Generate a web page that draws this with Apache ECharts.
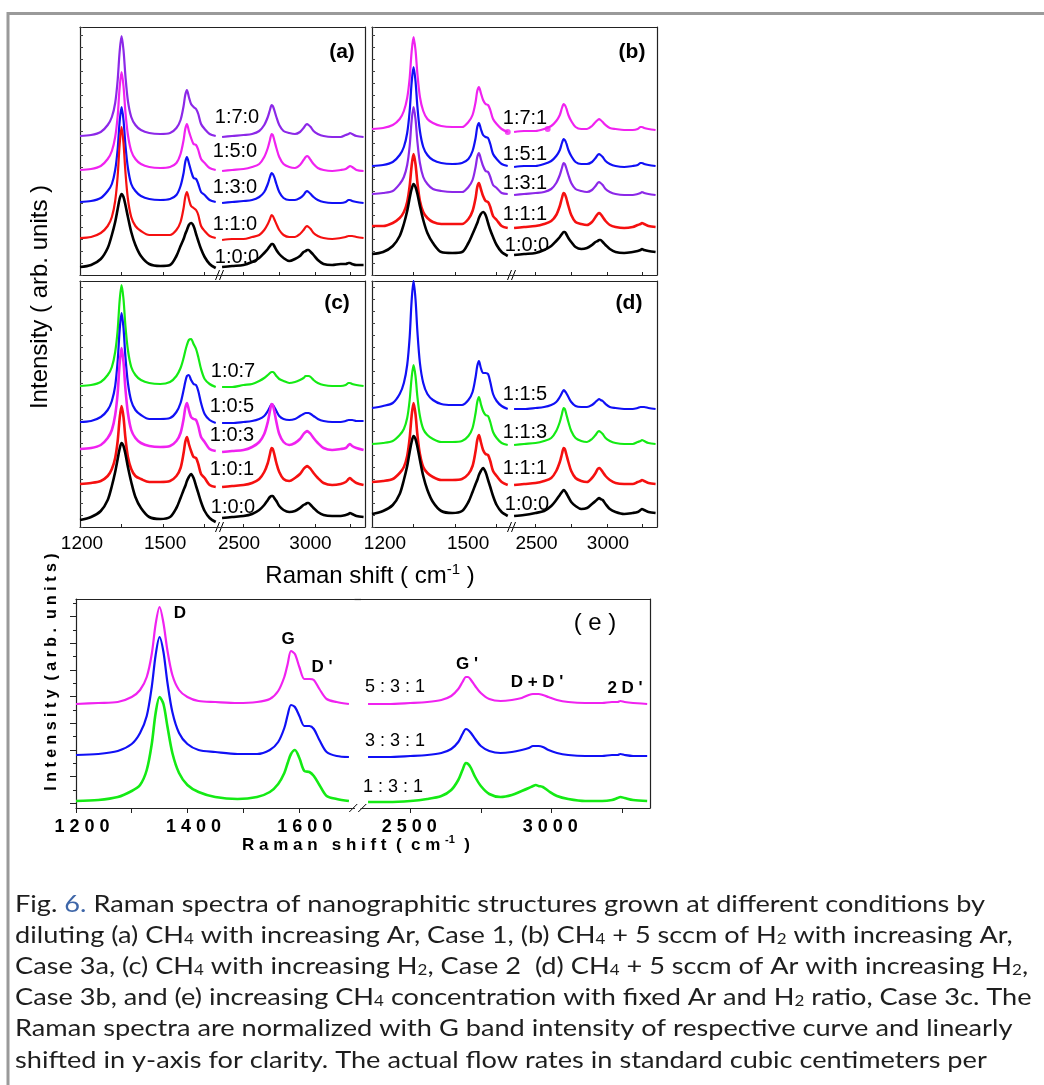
<!DOCTYPE html>
<html><head><meta charset="utf-8">
<script src="https://cdn.jsdelivr.net/npm/echarts@6/dist/echarts.min.js"></script>
<style>html,body{margin:0;padding:0;background:#fff}#c{width:1044px;height:1085px}</style>
</head><body><div id="c"></div>
<script>
// ---------- shared x positions (Raman shift, cm-1) ----------
const XL = [1200,1240,1275,1300,1315,1327,1336,1343,1350,1357,1364,1373,1385,1400,1420,1450,1490,1525,1548,1563,1574,1580,1586,1593,1601,1610,1619,1627,1637,1650,1668,1690];
const XR = [2350,2420,2500,2560,2610,2645,2670,2685,2697,2705,2715,2730,2750,2780,2820,2860,2895,2920,2935,2945,2955,2970,2990,3020,3060,3120,3180,3215,3235,3245,3260,3290,3340];

// ---------- tick values / labels ----------
const TICKS_L = [1200,1350,1500,1650];
const LABELS_L = [1200,1500];
const TICKS_R = [2500,2750,3000,3250];
const LABELS_R = [2500,3000];
const E_TICKS_L = [1200,1300,1400,1500,1600];
const E_LABELS_L = [1200,1400,1600];
const E_TICKS_R = [2500,2750,3000,3250];
const E_LABELS_R = [2500,3000];
const E_YTICKS_MAJOR = [4.7,31.4,58,84.7,111.4,138,164.7,191.4];
const E_YTICKS_MINOR = [18,44.7,71.4,98,124.7,151.4,178,204.7];

// ---------- panel (a): CH4 : Ar : H2 ----------
const a170L=[139,140,143,150,158,172,195,223,239,225,199,174,158,150,145,142,141,142,147,155,169,180,185,178,171,168,166,161,151,146,141,139];
const a170R=[138,139,140,141,144,150,158,165,170,169,165,158,150,144,142,141,143,147,150,151,150,148,144,141,139,138,138,140,141,142,141,139,138];
const a150L=[105,106,109,116,124,138,159,187,203,189,163,140,124,116,111,108,107,108,112,121,135,146,151,144,137,131,130,125,116,112,107,105];
const a150R=[104,105,106,108,111,118,127,135,141,140,135,127,118,111,108,107,110,115,118,119,118,115,111,107,105,104,105,106,108,109,108,105,104];
const a130L=[73,74,77,84,91,105,126,153,168,155,130,107,91,84,79,76,75,76,80,89,102,113,118,112,104,97,96,91,83,80,75,73];
const a130R=[72,73,74,75,78,83,91,98,102,101,98,91,83,77,75,75,77,80,83,84,83,81,78,75,73,72,72,73,75,75,74,73,72];
const a110L=[37,38,42,49,58,74,99,130,148,132,103,76,58,49,44,40,40,40,45,53,67,78,83,76,69,67,65,60,49,44,39,37];
const a110R=[35,36,36,38,40,45,51,56,60,59,56,51,45,40,38,38,41,45,48,49,48,46,42,39,37,36,37,38,39,39,39,38,37];
const a100L=[8,10,16,27,40,53,66,76,81,78,70,58,43,30,19,11,9,10,19,29,36,41,45,50,52,49,41,34,26,18,11,7];
const a100R=[8,9,10,13,17,22,26,29,31,31,29,25,21,17,14,16,19,23,24,25,25,23,20,15,11,10,11,11,12,12,11,10,10];

// ---------- panel (b) ----------
const b171L=[146,147,150,156,164,177,197,223,238,225,201,178,164,156,152,149,148,148,153,160,173,184,188,182,175,171,170,165,156,151,146,143];
const b171R=[143,144,144,146,149,154,160,167,171,170,167,160,154,148,146,146,149,153,155,156,155,153,150,147,146,145,145,146,148,148,147,146,145];
const b171DotsL=[[1690,143]];
const b171DotsR=[[2585,146]];
const b151L=[109,110,113,120,128,142,164,192,208,194,168,144,128,120,115,112,111,112,116,124,137,148,152,146,140,138,137,131,121,116,111,109];
const b151R=[108,109,109,111,114,119,125,132,136,135,132,125,119,113,111,111,113,117,120,121,120,118,114,111,109,108,109,110,112,112,111,110,109];
const b131L=[81,82,84,91,98,110,129,154,168,156,133,112,98,91,86,84,83,83,88,95,108,118,122,116,109,104,103,98,90,87,82,81];
const b131R=[80,81,82,83,86,92,100,107,112,111,107,100,92,86,84,83,85,89,92,93,92,90,86,83,81,80,80,81,82,83,82,81,80];
const b111L=[49,49,52,57,63,73,89,109,121,111,92,74,63,57,53,51,51,51,56,64,77,88,92,86,79,74,73,68,59,55,49,47];
const b111R=[47,48,49,51,54,60,69,77,82,81,77,69,60,53,51,50,53,58,61,62,61,58,54,50,48,47,48,50,51,52,51,49,48];
const b100L=[21,23,29,39,51,64,77,86,91,88,81,69,55,42,32,23,22,23,32,41,48,52,57,61,63,60,52,45,38,30,23,19];
const b100R=[20,21,22,25,29,34,38,41,43,43,41,37,33,28,26,27,30,33,34,35,35,33,30,26,23,22,23,24,25,26,25,24,23];

// ---------- panel (c) ----------
const c107L=[141,142,145,152,160,175,197,226,242,228,201,177,160,152,147,144,143,145,151,159,169,176,182,187,188,183,178,170,158,148,143,140];
const c107R=[140,140,142,143,146,149,152,154,155,155,154,151,148,146,144,145,147,149,151,151,151,150,147,144,142,141,141,142,144,144,143,142,141];
const c105L=[105,106,110,117,126,141,166,196,214,199,170,144,126,117,112,108,108,109,115,124,137,145,151,152,147,143,142,136,124,113,107,104];
const c105R=[104,104,105,106,108,111,116,120,123,122,120,116,111,108,107,108,111,113,114,114,114,113,111,108,106,105,105,106,107,107,107,106,106];
const c103L=[78,79,82,89,97,112,134,163,179,165,138,114,97,89,84,81,80,81,86,94,108,119,124,117,110,108,107,101,90,85,78,76];
const c103R=[75,76,77,80,85,93,105,116,123,122,116,105,93,85,82,84,88,93,95,96,95,93,89,84,79,77,78,79,82,83,81,79,77];
const c101L=[43,44,46,51,58,69,86,108,121,110,89,70,58,51,48,45,45,46,51,59,74,85,90,83,76,70,69,63,53,49,42,40];
const c101R=[40,41,42,44,48,55,64,73,79,78,73,64,55,48,46,49,53,58,60,61,60,58,54,49,44,42,43,45,48,49,47,44,42];
const c100L=[7,10,16,27,41,55,68,78,84,81,73,60,45,30,19,10,8,10,19,29,37,41,46,50,53,49,41,34,25,16,9,5];
const c100R=[9,10,11,13,17,22,27,30,31,31,29,26,21,17,15,16,19,22,23,24,24,22,19,15,12,11,11,12,13,14,13,11,10];

// ---------- panel (d) ----------
const d115L=[119,121,124,133,144,162,190,226,246,228,195,164,144,133,127,123,122,122,127,135,150,161,166,159,154,154,153,145,133,126,121,118];
const d115R=[118,118,119,120,122,125,130,134,137,136,134,130,125,121,120,120,122,125,127,128,127,126,123,120,119,118,118,119,120,120,120,119,118];
const d113L=[83,84,86,92,98,109,127,149,162,151,130,111,98,92,88,85,85,86,91,99,114,125,130,123,116,112,111,105,95,89,84,82];
const d113R=[82,83,84,86,89,96,105,113,119,118,113,105,96,89,86,85,88,92,95,96,95,93,89,86,84,83,83,85,86,87,86,84,83];
const d111L=[45,46,48,54,60,71,89,111,124,113,92,73,60,54,50,47,47,48,53,61,76,87,92,85,77,73,72,66,56,51,45,42];
const d111R=[42,43,44,46,49,56,65,73,79,78,73,65,56,49,46,45,49,54,58,59,58,55,51,47,44,43,43,45,46,47,46,44,43];
const d100L=[13,16,22,33,47,61,75,85,91,88,80,67,51,37,25,16,14,16,25,35,43,47,52,56,59,55,47,40,31,22,15,11];
const d100R=[11,12,14,16,21,27,32,35,37,36,34,30,25,21,18,19,23,26,28,29,28,27,23,18,15,13,14,15,17,18,17,15,14];

// ---------- panel (e) ----------
const e531L=[104,105,106,111,118,131,154,184,201,185,158,133,118,111,107,106,105,106,109,117,131,144,157,154,141,129,129,128,119,109,106,104];
const e531R=[104,104,105,106,108,112,119,126,131,131,128,122,115,109,107,108,110,113,114,114,114,113,111,108,106,105,105,106,106,107,106,105,104];
const e331L=[53,54,57,64,75,92,121,153,171,156,126,96,75,64,58,56,54,54,58,66,80,93,103,101,92,82,82,79,68,56,52,51];
const e331R=[51,51,52,53,55,59,66,74,79,78,75,69,62,57,55,56,58,60,62,62,62,61,58,55,53,52,52,53,53,54,53,52,52];
const e131L=[7,8,11,17,23,38,64,95,111,104,82,55,35,23,16,11,9,11,16,24,35,45,54,58,50,37,36,32,23,12,9,7];
const e131R=[6,6,7,9,12,18,28,38,45,44,40,31,22,14,11,13,17,20,22,23,22,21,17,12,9,7,7,8,10,11,10,8,7];

// ---------- text ----------
const PANEL_TAGS = ['(a)','(b)','(c)','(d)'];
const PEAK_TAGS = ['D','G',"D '","G '","D + D '","2 D '"];
const CAPTION = [
  '{t|Fig. }{k|6.}{t| Raman spectra of nanographitic structures grown at different conditions by}',
  '{t|diluting (a) CH}{s|4}{t| with increasing Ar, Case 1, (b) CH}{s|4}{t| + 5 sccm of H}{s|2}{t| with increasing Ar,}',
  '{t|Case 3a, (c) CH}{s|4}{t| with increasing H}{s|2}{t|, Case 2  (d) CH}{s|4}{t| + 5 sccm of Ar with increasing H}{s|2}{t|,}',
  '{t|Case 3b, and (e) increasing CH}{s|4}{t| concentration with fixed Ar and H}{s|2}{t| ratio, Case 3c. The}',
  '{t|Raman spectra are normalized with G band intensity of respective curve and linearly}',
  '{t|shifted in y-axis for clarity. The actual flow rates in standard cubic centimeters per}'
];

const COL = {purple:'#8c28e8', magenta:'#f022f0', blue:'#1010f5', red:'#f51010', black:'#000000', green:'#14ea14'};

// [label, colour, left values, right values, noisy]
const PANELS = [
  {key:'a', curves:[['1:7:0',COL.purple,a170L,a170R,0],['1:5:0',COL.magenta,a150L,a150R,0],['1:3:0',COL.blue,a130L,a130R,0],['1:1:0',COL.red,a110L,a110R,0],['1:0:0',COL.black,a100L,a100R,1]]},
  {key:'b', curves:[['1:7:1',COL.magenta,b171L,b171R,0],['1:5:1',COL.blue,b151L,b151R,0],['1:3:1',COL.purple,b131L,b131R,0],['1:1:1',COL.red,b111L,b111R,1],['1:0:0',COL.black,b100L,b100R,1]]},
  {key:'c', curves:[['1:0:7',COL.green,c107L,c107R,0],['1:0:5',COL.blue,c105L,c105R,0],['1:0:3',COL.magenta,c103L,c103R,1],['1:0:1',COL.red,c101L,c101R,1],['1:0:0',COL.black,c100L,c100R,1]]},
  {key:'d', curves:[['1:1:5',COL.blue,d115L,d115R,0],['1:1:3',COL.green,d113L,d113R,0],['1:1:1',COL.red,d111L,d111R,1],['1:0:0',COL.black,d100L,d100R,1]]},
  {key:'e', curves:[['5 : 3 : 1',COL.magenta,e531L,e531R,0],['3 : 3 : 1',COL.blue,e331L,e331R,0],['1 : 3 : 1',COL.green,e131L,e131R,1]]}
];

// ---------- layout (pixels) ----------
const LAY = {
  a:{top:27,h:248,x0:80,wl:138.5,gap:0,wr:146.5,padL:[0,0,0,0],padR:[0,9,0,0]},
  b:{top:27,h:248,x0:372,wl:138.5,gap:0,wr:146.5,padL:[0,0,0,0],padR:[0,0,0,0]},
  c:{top:281,h:246,x0:80,wl:138.5,gap:0,wr:146.5,padL:[0,0,0,4],padR:[0,9,0,0]},
  d:{top:281,h:246,x0:372,wl:138.5,gap:0,wr:146.5,padL:[0,0,0,26],padR:[0,0,0,2]},
  e:{top:599,h:209,x0:76,wl:278.5,gap:6.5,wr:289,padL:[0,0,0,12],padR:[0,2,0,0]}
};
const CURVE_LABEL_POS = {
  a:[[237,117],[235,151],[235,187],[235,224],[237,257]],
  b:[[525,118],[525,154],[525,183],[525,214],[527,245]],
  c:[[233,371],[232,406],[232,435],[232,469],[233,507]],
  d:[[525,394],[525,432],[525,468],[527,504]],
  e:[[395,687],[395,741],[393,787]]
};
const TAG_POS = [[342,52],[632,52],[337,303],[629,303]];
const PEAK_POS = [[180,613],[288,639],[322,667],[467,664],[537,682],[625,688]];

const FONT = "Liberation Sans";
const pair = (xs, ys) => xs.map((x, i) => [x, ys[i]]);
const plain = v => String(v);
const spaced = v => String(v).split('').join(' ');

const grid = [], xAxis = [], yAxis = [], series = [];
PANELS.forEach((p, pi) => {
  const L = LAY[p.key];
  const isE = p.key === 'e';
  const showLab = (p.key === 'c' || p.key === 'd' || isE);
  grid.push({left:L.x0, top:L.top, width:L.wl, height:L.h, containLabel:false, outerBoundsMode:'none'});
  grid.push({left:L.x0 + L.wl + L.gap, top:L.top, width:L.wr, height:L.h, containLabel:false, outerBoundsMode:'none'});
  const gL = 2*pi, gR = 2*pi+1;
  const lineSt = {color:'#222', width:1.2};
  const labSt = pad => isE
    ? {show:true, fontFamily:FONT, fontWeight:'bold', fontSize:18, color:'#000', margin:10, formatter:spaced, padding:pad}
    : {show:showLab, fontFamily:FONT, fontSize:19, color:'#000', margin:7, formatter:plain, padding:pad};
  xAxis.push({gridIndex:gL, type:'value', min:1200, max:1700, position:'bottom', splitLine:{show:false},
    axisLine:{show:true, onZero:false, lineStyle:lineSt},
    axisTick:{show:true, inside:!isE, length:isE?5:3, customValues:isE?E_TICKS_L:TICKS_L, lineStyle:{color:'#222'}},
    axisLabel:Object.assign({customValues:isE?E_LABELS_L:LABELS_L}, labSt(L.padL))});
  xAxis.push({gridIndex:gL, type:'value', min:1200, max:1700, position:'top', splitLine:{show:false},
    axisLine:{show:true, onZero:false, lineStyle:lineSt}, axisTick:{show:false}, axisLabel:{show:false}});
  xAxis.push({gridIndex:gR, type:'value', min:2325, max:3350, position:'bottom', splitLine:{show:false},
    axisLine:{show:true, onZero:false, lineStyle:lineSt},
    axisTick:{show:true, inside:!isE, length:isE?5:3, customValues:isE?E_TICKS_R:TICKS_R, lineStyle:{color:'#222'}},
    axisLabel:Object.assign({customValues:isE?E_LABELS_R:LABELS_R}, labSt(L.padR))});
  xAxis.push({gridIndex:gR, type:'value', min:2325, max:3350, position:'top', splitLine:{show:false},
    axisLine:{show:true, onZero:false, lineStyle:lineSt}, axisTick:{show:false}, axisLabel:{show:false}});
  yAxis.push({gridIndex:gL, type:'value', min:0, max:L.h, position:'left', splitLine:{show:false},
    axisLine:{show:true, onZero:false, lineStyle:lineSt},
    axisTick: isE ? {show:true, inside:false, length:6, customValues:E_YTICKS_MAJOR, lineStyle:{color:'#222'}}
                  : {show:true, inside:true, length:3, lineStyle:{color:'#444'}},
    interval: isE ? undefined : 12,
    axisLabel:{show:false}});
  yAxis.push({gridIndex:gR, type:'value', min:0, max:L.h, position:'right', splitLine:{show:false},
    axisLine:{show:true, onZero:false, lineStyle:lineSt}, axisTick:{show:false}, axisLabel:{show:false}});
  p.curves.forEach(c => {
    const base = {type:'line', name:c[0], showSymbol:false, smooth:0.3, silent:true,
      lineStyle:{color:c[1], width:c[4] ? 2.6 : 2.2}, itemStyle:{color:c[1]}, z:3};
    series.push(Object.assign({}, base, {xAxisIndex:4*pi, yAxisIndex:2*pi, data:pair(XL, c[2])}));
    series.push(Object.assign({}, base, {xAxisIndex:4*pi+2, yAxisIndex:2*pi+1, data:pair(XR, c[3])}));
  });
});
// minor ticks for panel (e) left axis
yAxis.push({gridIndex:8, type:'value', min:0, max:LAY.e.h, position:'left', splitLine:{show:false},
  axisLine:{show:false}, axisTick:{show:true, inside:false, length:3, customValues:E_YTICKS_MINOR, lineStyle:{color:'#222'}}, axisLabel:{show:false}});
// magenta end dots in panel (b)
series.push({type:'scatter', xAxisIndex:4, yAxisIndex:2, data:b171DotsL, symbolSize:6, itemStyle:{color:COL.magenta}, silent:true, z:4});
series.push({type:'scatter', xAxisIndex:6, yAxisIndex:3, data:b171DotsR, symbolSize:6, itemStyle:{color:COL.magenta}, silent:true, z:4});

// ---------- graphic decorations / texts ----------
const G = [];
G.push({type:'polyline', shape:{points:[[8,1085],[8,13.5],[1044,13.5]]}, style:{stroke:'#9a9a9a', lineWidth:3, fill:null}, silent:true});
G.push({type:'line', silent:true, shape:{x1:LAY.e.x0 + LAY.e.wl, y1:LAY.e.top + 0.5, x2:LAY.e.x0 + LAY.e.wl + LAY.e.gap, y2:LAY.e.top + 0.5}, style:{stroke:'#222', lineWidth:1.2}});
const txt = (x, y, text, size, weight, extra) => G.push(Object.assign({type:'text', x, y, silent:true,
  style:{text, fontFamily:FONT, fontSize:size, fontWeight:weight || 'normal', fill:'#000', align:'center', verticalAlign:'middle'}}, extra || {}));
PANELS.forEach(p => p.curves.forEach((c, i) => {
  const pos = CURVE_LABEL_POS[p.key][i];
  txt(pos[0], pos[1], c[0], p.key === 'e' ? 18 : 20);
}));
PANEL_TAGS.forEach((t, i) => txt(TAG_POS[i][0], TAG_POS[i][1], t, 21, 'bold'));
PEAK_TAGS.forEach((t, i) => txt(PEAK_POS[i][0], PEAK_POS[i][1], t, 17, 'bold'));
txt(595, 623, '( e )', 24);
txt(40, 297, 'Intensity ( arb. units )', 24, 'normal', {rotation:Math.PI/2});
G.push({type:'text', x:370, y:576, silent:true, style:{text:'{a|Raman shift ( cm}{s|-1}{a| )}', align:'center', verticalAlign:'middle',
  rich:{a:{fontFamily:FONT, fontSize:24, fill:'#000'}, s:{fontFamily:FONT, fontSize:15, fill:'#000', padding:[0,0,12,0]}}}});
txt(52, 672, 'I n t e n s i t y  ( a r b .  u n i t s )', 16, 'bold', {rotation:Math.PI/2});
G.push({type:'text', x:356, y:845, silent:true, style:{text:'{a|R a m a n   s h i f t  (  c m }{s|-1}{a|  )}', align:'center', verticalAlign:'middle',
  rich:{a:{fontFamily:FONT, fontWeight:'bold', fontSize:17, fill:'#000'}, s:{fontFamily:FONT, fontWeight:'bold', fontSize:11, fill:'#000', padding:[0,0,10,0]}}}});
// axis break marks
const brk = (x, y, w, hgt, sp) => {
  G.push({type:'line', silent:true, shape:{x1:x-sp/2-w/2, y1:y+hgt/2, x2:x-sp/2+w/2, y2:y-hgt/2}, style:{stroke:'#000', lineWidth:1}});
  G.push({type:'line', silent:true, shape:{x1:x+sp/2-w/2, y1:y+hgt/2, x2:x+sp/2+w/2, y2:y-hgt/2}, style:{stroke:'#000', lineWidth:1}});
};
['a','b','c','d'].forEach(k => { const L = LAY[k]; brk(L.x0 + L.wl + 1, L.top + L.h, 4, 10, 4); });
brk(LAY.e.x0 + LAY.e.wl + LAY.e.gap/2, LAY.e.top + LAY.e.h, 8, 8, 9);
// caption
const cvs = document.createElement('canvas').getContext('2d');
cvs.font = "24px Lato";
const capPlain = 'Fig. 6. Raman spectra of nanographitic structures grown at different conditions by';
const capScale = Math.max(0.9, Math.min(1.3, 970 / cvs.measureText(capPlain).width));
const capLineY = [904, 935, 966, 997, 1028, 1060];
CAPTION.forEach((line, i) => {
  G.push({type:'text', x:15, y:capLineY[i], scaleX:capScale, silent:true, style:{text:line, align:'left', verticalAlign:'middle',
    rich:{t:{fontFamily:'Lato', fontSize:24, fill:'#1e1e1e'}, k:{fontFamily:'Lato', fontSize:24, fill:'#3e66a8'},
          s:{fontFamily:'Lato', fontSize:15, fill:'#1e1e1e', padding:[8,0,0,0]}}}});
});

const chart = echarts.init(document.getElementById('c'), null, {renderer:'canvas', width:1044, height:1085});
chart.setOption({animation:false, backgroundColor:'#fff', grid, xAxis, yAxis, series, graphic:G});
</script>
</body></html>
